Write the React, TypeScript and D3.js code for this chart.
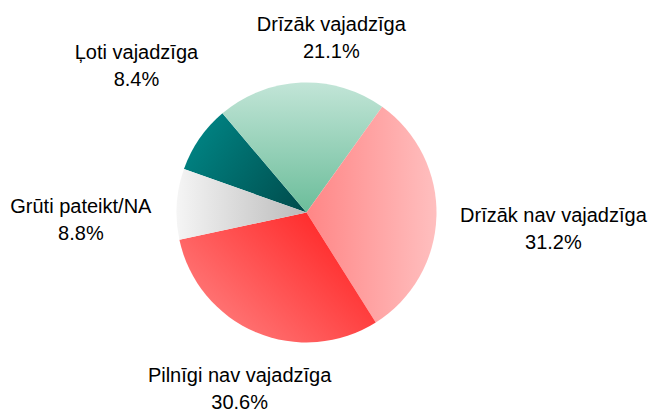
import * as d3 from "d3";

// survey answers, in the order the pie draws them (clockwise)
const categories = ["Ļoti vajadzīga", "Drīzāk vajadzīga", "Drīzāk nav vajadzīga", "Pilnīgi nav vajadzīga", "Grūti pateikt/NA"];
const shares = [8.4, 21.1, 31.2, 30.6, 8.8];
const shareLabels = ["8.4%", "21.1%", "31.2%", "30.6%", "8.8%"];

const width = 651,
    height = 411;
const cx = 306.5,
    cy = 212.5,
    radius = 130;

// gradient for every slice: [stop0, stop1, x1, y1, x2, y2] (in units of radius)
const sliceFills: [string, string, number, number, number, number][] = [
    ["#008484", "#004a4a", -0.9, -0.6, 0, 0],
    ["#c2e5d7", "#6bbd9a", 0, -1, 0, 0],
    ["#ff8686", "#ffbfbf", 0, 0, 1, 0],
    ["#ff1e1e", "#ff7a7a", 0.35, 0, -0.6, 1],
    ["#f5f5f5", "#bababa", -1, 0, 0, 0],
];

// Excel moves the labels around a bit, so these nudge them from the outer arc
const labelNudge: [number, number][] = [
    [-26, -48],
    [32, 0],
    [72, 11],
    [1, 15],
    [-51, 18],
];

export default function App() {
    const pie = d3.pie<number>()
        .sort(null)
        .startAngle((-70.5 * Math.PI) / 180)
        .endAngle((-70.5 * Math.PI) / 180 + 2 * Math.PI);
    const arcs = pie(shares);

    const arc = d3.arc<d3.PieArcDatum<number>>().innerRadius(0).outerRadius(radius);
    const labelArc = d3.arc<d3.PieArcDatum<number>>().innerRadius(radius + 45).outerRadius(radius + 45);

    return (
        <svg width={width} height={height} style={{position: "absolute", left: 0, top: 0, background: "#fff"}}
             fontFamily="'Liberation Sans', Arial, sans-serif">
            <defs>
                {sliceFills.map((f, i) => (
                    <linearGradient key={i} id={"slice" + i} gradientUnits="userSpaceOnUse"
                                    x1={f[2] * radius} y1={f[3] * radius} x2={f[4] * radius} y2={f[5] * radius}>
                        <stop offset="0" stopColor={f[0]} />
                        <stop offset="1" stopColor={f[1]} />
                    </linearGradient>
                ))}
            </defs>
            <g transform={`translate(${cx},${cy})`}>
                {arcs.map((a, i) => (
                    <path key={i} d={arc(a) || ""} fill={`url(#slice${i})`} />
                ))}
                {arcs.map((a, i) => {
                    const [lx, ly] = labelArc.centroid(a);
                    const x = lx + labelNudge[i][0];
                    const y = ly + labelNudge[i][1];
                    return (
                        <text key={i} x={x} y={y - 6.5} textAnchor="middle" fontSize={20} fill="#000">
                            <tspan x={x}>{categories[i]}</tspan>
                            <tspan x={x} dy={27}>{shareLabels[i]}</tspan>
                        </text>
                    );
                })}
            </g>
        </svg>
    );
}
